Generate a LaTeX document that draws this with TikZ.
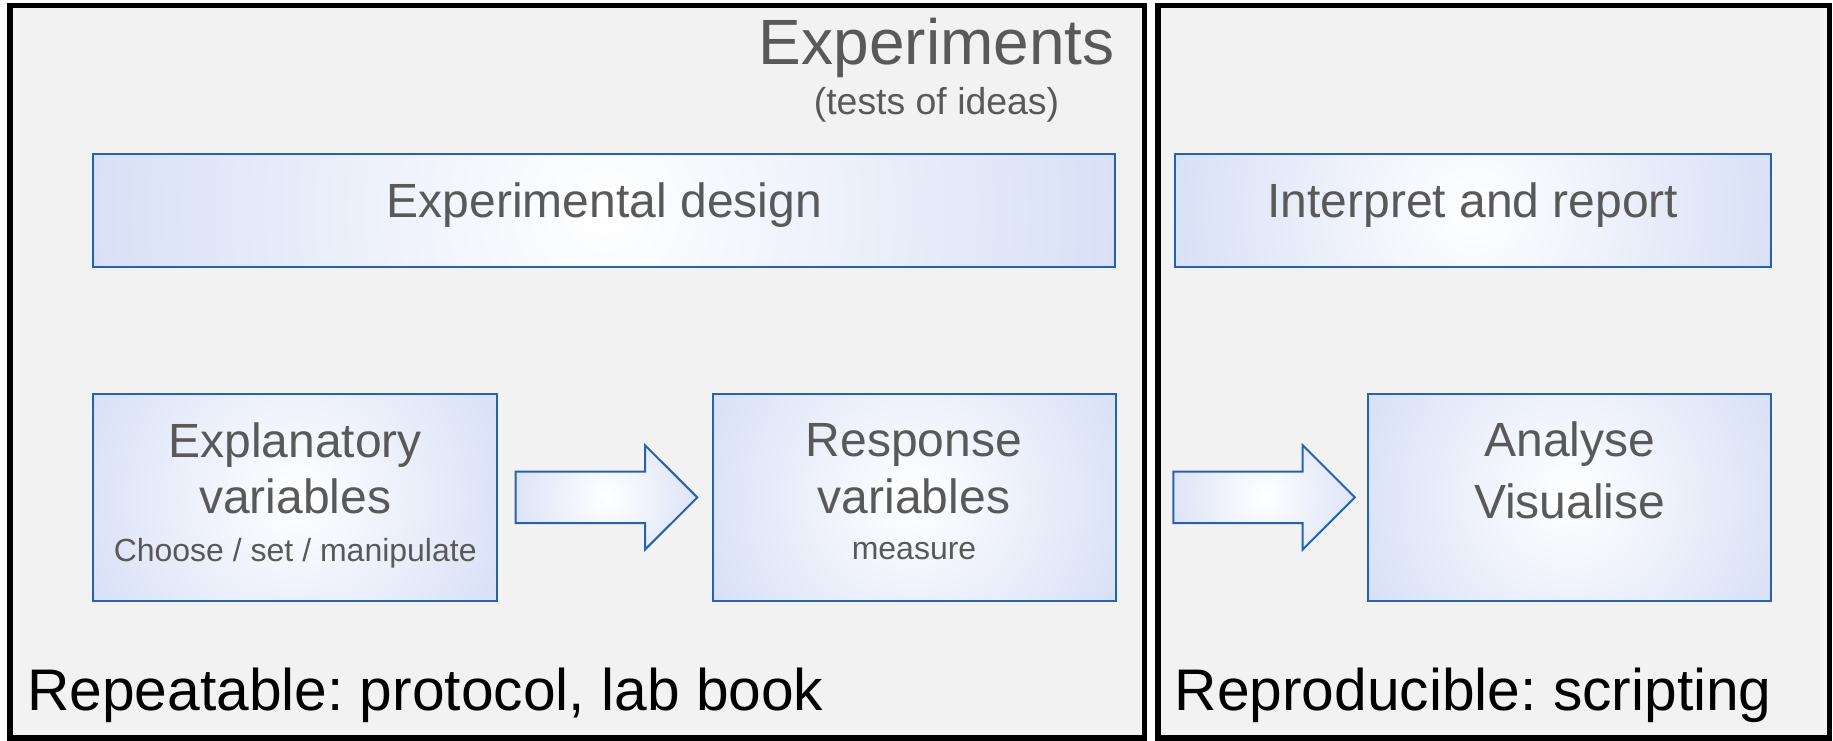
\documentclass[tikz,border=0pt]{standalone}
\usepackage{fontspec}
\setmainfont{Liberation Sans}
\usetikzlibrary{calc}
\frenchspacing
\definecolor{panelfill}{RGB}{242,242,242}
\definecolor{boxedge}{RGB}{38,98,178}
\definecolor{boxblue}{RGB}{216,224,246}
\definecolor{txtgray}{RGB}{89,89,89}

\tikzset{
  % circular glow from the centre out to the corners, clipped to the shape
  glow/.style={path picture={
    \shade[inner color=white, outer color=boxblue]
      let \p1=($(path picture bounding box.north east)-(path picture bounding box.center)$),
          \n1={veclen(\x1,\y1)} in
      (path picture bounding box.center) circle [radius=\n1];
  }},
  pics/blockarrow/.style={code={
    \path[arrowbody] (0,-25.8) -- (129.3,-25.8) -- (129.3,-52.2) -- (181.6,0)
      -- (129.3,52.2) -- (129.3,25.8) -- (0,25.8) -- cycle;
  }}
}

\begin{document}
\begin{tikzpicture}[x=1pt,y=-1pt,
  panel/.style={draw=black, line width=5.6pt, fill=panelfill, inner sep=0pt},
  box/.style={draw=boxedge, line width=2pt, fill=white, glow, inner sep=0pt},
  arrowbody/.style={draw=boxedge, line width=2pt, line join=miter, fill=white, glow},
  big/.style={font=\fontsize{48}{56}\selectfont, text=txtgray, inner sep=0pt, anchor=base},
  small/.style={font=\fontsize{32}{38}\selectfont, text=txtgray, inner sep=0pt, anchor=base},
  footer/.style={font=\fontsize{58.7}{68}\selectfont, text=black, inner sep=0pt, anchor=base west},
]
\fill[white] (0,0) rectangle (1833,741);
\useasboundingbox (0,0) rectangle (1833,741);

% two panels
\node[panel, minimum width=1134.5pt, minimum height=732.5pt] (leftpanel) at (577.25,371.75) {};
\node[panel, minimum width=671.5pt, minimum height=732.5pt] (rightpanel) at (1493.75,371.75) {};

% heading
\node[font=\fontsize{64}{72}\selectfont, text=txtgray, inner sep=0pt, anchor=base] (title) at (936.7,65) {Experiments};
\node[font=\fontsize{37.4}{44}\selectfont, text=txtgray, inner sep=0pt, anchor=base] (subtitle) at (936.5,114) {(tests of ideas)};

% boxes
\node[box, minimum width=1022pt, minimum height=113pt] (design) at (604.4,210.2) {};
\node[box, minimum width=596.5pt, minimum height=113pt] (interp) at (1472.8,210.2) {};
\node[box, minimum width=403.7pt, minimum height=207pt] (expl) at (295.2,497.4) {};
\node[box, minimum width=403pt, minimum height=207pt] (resp) at (914,497.4) {};
\node[box, minimum width=402.7pt, minimum height=207pt] (anal) at (1569.7,497.4) {};

% block arrows
\pic at (515.7,497.4) {blockarrow};
\pic at (1173.3,497.4) {blockarrow};

% box texts
\node[big] (tdesign) at (604.4,217.3) {Experimental design};
\node[big] (tinterp) at (1472.8,217.3) {Interpret and report};

\node[big] (texpl1) at (295.2,457.3) {Explanatory};
\node[big] (texpl2) at (295.2,513.3) {variables};
\node[small] (texpl3) at (295.2,561.7) {Choose / set / manipulate};

\node[big] (tresp1) at (914,456.7) {Response};
\node[big] (tresp2) at (914,513.3) {variables};
\node[small] (tresp3) at (914,559.3) {measure};

\node[big] (tanal1) at (1569.7,456.7) {Analyse};
\node[big] (tanal2) at (1569.7,518.3) {Visualise};

% panel footers
\node[footer] (repeat) at (27,710) {Repeatable: protocol, lab book};
\node[footer] (reprod) at (1174.5,710) {Reproducible: scripting};
\end{tikzpicture}
\end{document}
